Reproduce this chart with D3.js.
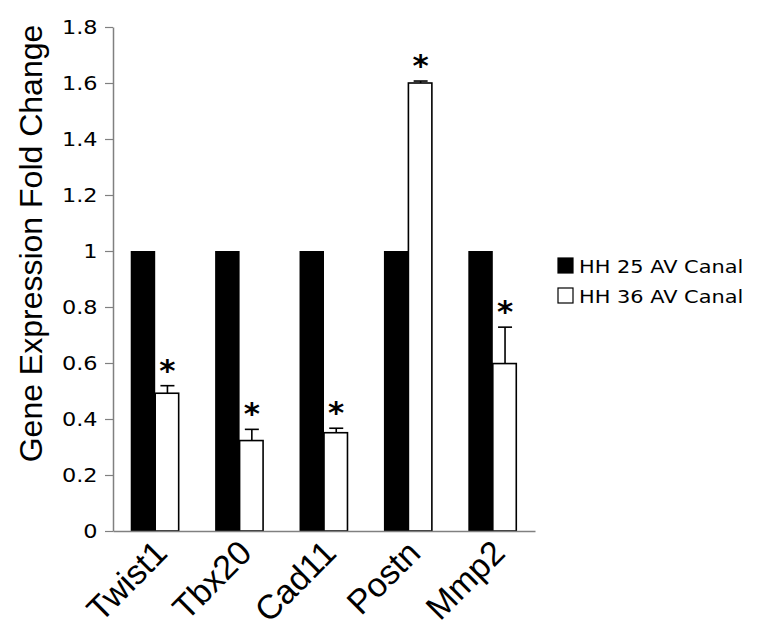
<!DOCTYPE html>
<html>
<head>
<meta charset="utf-8">
<script src="https://cdn.jsdelivr.net/npm/d3@7"></script>
<style>
  html, body { margin: 0; padding: 0; background: #fff; }
  svg { display: block; }
</style>
</head>
<body>
<svg id="chart" width="762" height="644"></svg>
<script>
const categories = ["Twist1", "Tbx20", "Cad11", "Postn", "Mmp2"];
const seriesNames = ["HH 25 AV Canal", "HH 36 AV Canal"];
const hh25Values = [1, 1, 1, 1, 1];
const hh36Values = [0.492, 0.323, 0.351, 1.600, 0.598];
const hh36Errors = [0.027, 0.040, 0.016, 0.007, 0.130];
const significant = [true, true, true, true, true];
const yTickLabels = ["0", "0.2", "0.4", "0.6", "0.8", "1", "1.2", "1.4", "1.6", "1.8"];
const yTitle = "Gene Expression Fold Change";

const svg = d3.select("#chart");
const plotLeft = 113, plotRight = 535, plotTop = 27, plotBottom = 531;

const y = d3.scaleLinear().domain([0, 1.8]).range([plotBottom, plotTop]);
const x0 = d3.scaleBand().domain(categories).range([plotLeft, plotRight])
  .paddingInner(0.42).paddingOuter(0.21);
const x1 = d3.scaleBand().domain(seriesNames).range([0, x0.bandwidth()]);

const rows = categories.map((c, i) => ({
  cat: c, v25: hh25Values[i], v36: hh36Values[i], err: hh36Errors[i], sig: significant[i]
}));

// Y axis
const yAxis = d3.axisLeft(y)
  .tickValues(yTickLabels.map(Number))
  .tickFormat((d, i) => yTickLabels[i])
  .tickSize(8).tickSizeOuter(0).tickPadding(9);
const gy = svg.append("g").attr("transform", `translate(${plotLeft},0)`).call(yAxis);
gy.select(".domain").attr("stroke", "#808080").attr("stroke-width", 1.5);
gy.selectAll(".tick line").attr("stroke", "#808080").attr("stroke-width", 1.2);
const sx = 1.12;
gy.selectAll(".tick text")
  .attr("font-family", "DejaVu Sans, Verdana, sans-serif")
  .attr("font-size", 20)
  .attr("fill", "#000")
  .attr("x", -15.5 / sx)
  .attr("transform", `scale(${sx},1)`);

// bars
const groups = svg.append("g").selectAll("g").data(rows).join("g")
  .attr("transform", d => `translate(${x0(d.cat)},0)`);

groups.append("rect")
  .attr("x", x1(seriesNames[0]))
  .attr("y", d => y(d.v25))
  .attr("width", x1.bandwidth())
  .attr("height", d => y(0) - y(d.v25))
  .attr("fill", "#000");

groups.append("rect")
  .attr("x", x1(seriesNames[1]))
  .attr("y", d => y(d.v36))
  .attr("width", x1.bandwidth() - 1)
  .attr("height", d => y(0) - y(d.v36))
  .attr("fill", "#fff")
  .attr("stroke", "#000")
  .attr("stroke-width", 1.6);

// error bars
const cx = x1(seriesNames[1]) + x1.bandwidth() / 2;
groups.append("line")
  .attr("x1", cx).attr("x2", cx)
  .attr("y1", d => y(d.v36)).attr("y2", d => y(d.v36 + d.err))
  .attr("stroke", "#000").attr("stroke-width", 1.6);
groups.append("line")
  .attr("x1", cx - 7).attr("x2", cx + 7)
  .attr("y1", d => y(d.v36 + d.err)).attr("y2", d => y(d.v36 + d.err))
  .attr("stroke", "#000").attr("stroke-width", 1.6);

// asterisks
groups.filter(d => d.sig).append("text")
  .attr("x", cx)
  .attr("y", d => y(d.v36 + d.err) - 5)
  .attr("text-anchor", "middle")
  .attr("font-family", "DejaVu Sans, Verdana, sans-serif")
  .attr("font-weight", "bold")
  .attr("font-size", 31)
  .attr("fill", "#000")
  .text("*");

// X axis
const xAxis = d3.axisBottom(x0).tickSize(0).tickSizeOuter(0).tickPadding(0);
const gx = svg.append("g").attr("transform", `translate(0,${plotBottom})`).call(xAxis);
gx.select(".domain").attr("stroke", "#808080").attr("stroke-width", 1.5);
gx.selectAll(".tick text")
  .attr("font-family", "Liberation Sans, Arial, sans-serif")
  .attr("font-size", 34)
  .attr("fill", "#000")
  .attr("text-anchor", "end")
  .attr("dy", 0)
  .attr("y", 0)
  .attr("transform", "translate(14,24) rotate(-45)");

// Y title
svg.append("text")
  .attr("transform", `translate(42,243.5) rotate(-90)`)
  .attr("text-anchor", "middle")
  .attr("font-family", "Liberation Sans, Arial, sans-serif")
  .attr("font-size", 32)
  .attr("fill", "#000")
  .text(yTitle);

// legend
const legend = svg.append("g").attr("transform", "translate(558,258)");
const li = legend.selectAll("g").data(seriesNames).join("g")
  .attr("transform", (d, i) => `translate(0,${i * 30})`);
li.append("rect")
  .attr("x", 0).attr("y", 0).attr("width", 15).attr("height", 15)
  .attr("fill", (d, i) => i === 0 ? "#000" : "#fff")
  .attr("stroke", "#000").attr("stroke-width", 1.2);
const lsx = 1.16;
li.append("text")
  .attr("x", 21 / lsx).attr("y", 15)
  .attr("transform", `scale(${lsx},1)`)
  .attr("font-family", "DejaVu Sans, Verdana, sans-serif")
  .attr("font-size", 18)
  .attr("fill", "#000")
  .text(d => d);
</script>
</body>
</html>
